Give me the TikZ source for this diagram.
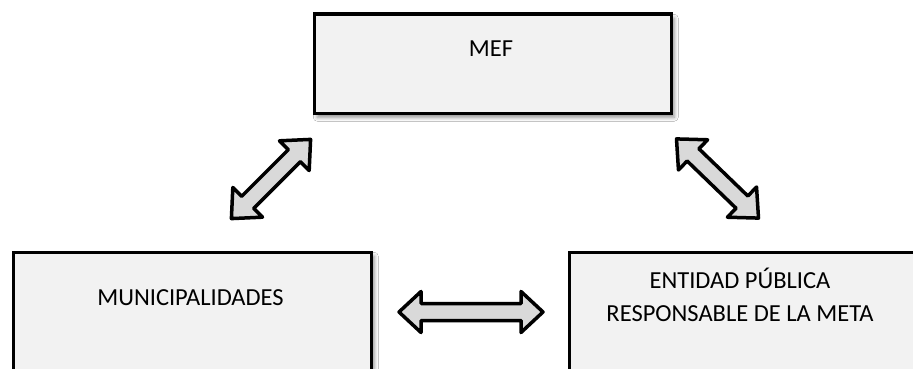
\documentclass[tikz,border=0pt]{standalone}
\usepackage{fontspec}
\setmainfont{Carlito}
\usetikzlibrary{shadows.blur}
\definecolor{boxfill}{HTML}{F2F2F2}
\definecolor{arrowfill}{HTML}{D9D9D9}
\tikzset{
  boxstyle/.style={draw=black,line width=3.5pt,fill=boxfill,inner sep=0pt,anchor=north west,
    blur shadow={shadow xshift=3pt,shadow yshift=-4pt,shadow blur radius=4pt,shadow opacity=45}},
  labelstyle/.style={font=\fontsize{24.5}{33}\selectfont,inner sep=0pt,anchor=base},
  arrowstyle/.style={draw=black,line width=3.5pt,fill=arrowfill,line join=round}
}
\begin{document}
\begin{tikzpicture}[x=1pt,y=-1pt]
\useasboundingbox (0,0) rectangle (913,369);
\clip (0,0) rectangle (913,369);
\fill[white] (0,0) rectangle (913,369);
\node[boxstyle,minimum width=357pt,minimum height=99pt] (mef) at (312.5,12.5) {};
\node[boxstyle,minimum width=358pt,minimum height=150pt] (muni) at (11.5,250.5) {};
\node[boxstyle,minimum width=380pt,minimum height=150pt] (ent) at (567.5,250.5) {};
\node[labelstyle] (mefl) at (491,57) {MEF};
\node[labelstyle] (munil) at (190.5,305) {MUNICIPALIDADES};
\node[labelstyle] (entl1) at (740,288) {ENTIDAD PÚBLICA};
\node[labelstyle] (entl2) at (740,321) {RESPONSABLE DE LA META};
\coordinate (a1) at (271,179);
\coordinate (a2) at (717.5,178.5);
\coordinate (a3) at (471,312);
\path[arrowstyle,shift={(a1)},rotate=45] (-56,0) -- (-33,21) -- (-33,8.5) -- (33,8.5) -- (33,21)
  -- (56,0) -- (33,-21) -- (33,-8.5) -- (-33,-8.5) -- (-33,-21) -- cycle;
\path[arrowstyle,shift={(a2)},rotate=-44] (-57,0) -- (-34,21) -- (-34,8.5) -- (34,8.5) -- (34,21)
  -- (57,0) -- (34,-21) -- (34,-8.5) -- (-34,-8.5) -- (-34,-21) -- cycle;
\path[arrowstyle,shift={(a3)}] (-72,0) -- (-50,20.5) -- (-50,8.5) -- (50,8.5) -- (50,20.5)
  -- (72,0) -- (50,-20.5) -- (50,-8.5) -- (-50,-8.5) -- (-50,-20.5) -- cycle;
\end{tikzpicture}
\end{document}
